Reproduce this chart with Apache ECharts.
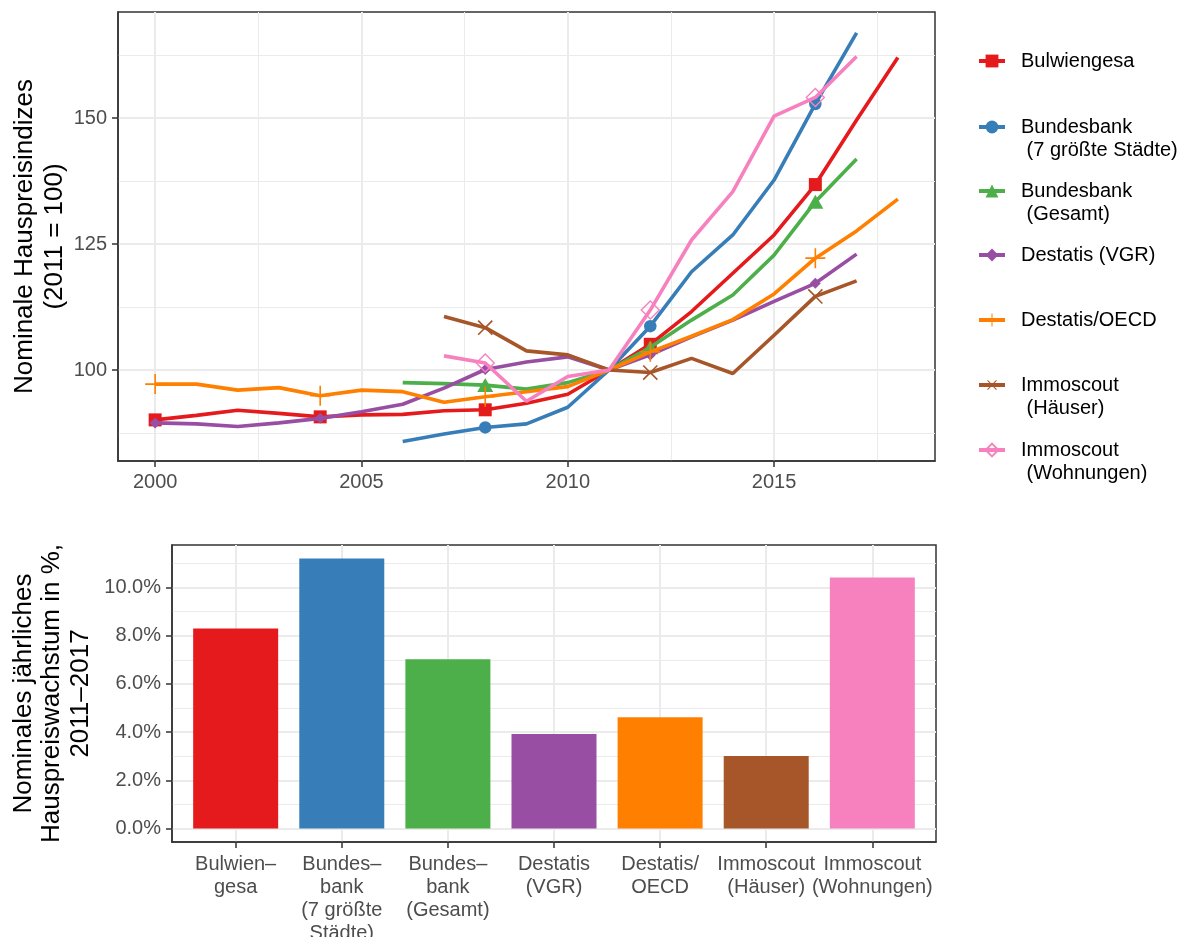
<!DOCTYPE html>
<html>
<head>
<meta charset="utf-8">
<script src="https://cdn.jsdelivr.net/npm/echarts@6/dist/echarts.min.js"></script>
<style>
html, body { margin: 0; padding: 0; background: #fff; }
#chart { width: 1188px; height: 937px; }
</style>
</head>
<body>
<div id="chart"></div>
<script>
// Jahre und Indexwerte (2011 = 100)
var years = [2000, 2001, 2002, 2003, 2004, 2005, 2006, 2007, 2008, 2009, 2010, 2011, 2012, 2013, 2014, 2015, 2016, 2017, 2018];
var markerYears = [2000, 2004, 2008, 2012, 2016];

var bulwiengesa      = [90.1, 91.0, 92.0, 91.4, 90.7, 91.1, 91.2, 91.9, 92.1, 93.4, 95.2, 100, 105.1, 111.6, 119.2, 126.8, 136.8, 149.6, 162.0];
var bundesbank7      = [null, null, null, null, null, null, 85.8, 87.3, 88.6, 89.3, 92.6, 100, 108.7, 119.5, 126.8, 137.7, 152.8, 166.9, null];
var bundesbankGesamt = [null, null, null, null, null, null, 97.5, 97.3, 97.0, 96.2, 97.5, 100, 104.5, 109.9, 114.9, 122.8, 133.4, 141.9, null];
var destatisVGR      = [89.5, 89.3, 88.8, 89.5, 90.4, 91.7, 93.2, 96.4, 100.1, 101.6, 102.6, 100, 103.0, 106.6, 109.9, 113.6, 117.2, 123.0, null];
var destatisOECD     = [97.2, 97.2, 96.0, 96.5, 94.9, 96.0, 95.7, 93.6, 94.7, 95.7, 96.7, 100, 103.6, 106.7, 110.0, 115.1, 122.2, 127.6, 133.9];
var immoHaeuser      = [null, null, null, null, null, null, null, 110.6, 108.4, 103.8, 103.0, 100, 99.5, 102.3, 99.3, 106.9, 114.6, 117.7, null];
var immoWohnungen    = [null, null, null, null, null, null, null, 102.8, 101.4, 93.8, 98.7, 100, 111.9, 125.8, 135.4, 150.4, 154.1, 162.2, null];

var seriesNames = [
    'Bulwiengesa',
    'Bundesbank\n (7 größte Städte)',
    'Bundesbank\n (Gesamt)',
    'Destatis (VGR)',
    'Destatis/OECD',
    'Immoscout\n (Häuser)',
    'Immoscout\n (Wohnungen)'
];

// Balken: durchschnittliches jährliches Wachstum 2011-2017 in %
var barLabels = ['Bulwien–\ngesa', 'Bundes–\nbank\n(7 größte\nStädte)', 'Bundes–\nbank\n(Gesamt)', 'Destatis\n(VGR)', 'Destatis/\nOECD', 'Immoscout\n(Häuser)', 'Immoscout\n(Wohnungen)'];
var barValues = [8.30, 11.20, 7.02, 3.92, 4.61, 3.01, 10.41];

// Achsenmarken
var topXMajor = [2000, 2005, 2010, 2015];
var topXMinor = [2002.5, 2007.5, 2012.5, 2017.5];
var topYMajor = [100, 125, 150];
var topYMinor = [87.5, 112.5, 137.5, 162.5];
var barXTicks = [1, 2, 3, 4, 5, 6, 7];
var barYMajor = [0, 2, 4, 6, 8, 10];
var barYMinor = [1, 3, 5, 7, 9, 11];

var colors = ['#E41A1C', '#377EB8', '#4DAF4A', '#984EA3', '#FF7F00', '#A65628', '#F781BF'];
var lineData = [bulwiengesa, bundesbank7, bundesbankGesamt, destatisVGR, destatisOECD, immoHaeuser, immoWohnungen];

var plusPath = 'path://M9.2,0H10.8V9.2H20V10.8H10.8V20H9.2V10.8H0V9.2H9.2Z';
var symbols = [
    { symbol: 'rect', size: 13 },
    { symbol: 'circle', size: 12.5 },
    { symbol: 'triangle', size: [16, 14] },
    { symbol: 'diamond', size: 11 },
    { symbol: plusPath, size: 20 },
    { symbol: plusPath, size: 20, rotate: 45 },
    { symbol: 'diamond', size: 18, open: true }
];

var FONT = '"Liberation Sans", Arial, Helvetica, sans-serif';
var tickColor = '#4D4D4D';
var borderColor = '#333333';
var gridColor = '#EBEBEB';

function pairs(vals) {
    var out = [];
    years.forEach(function (y, i) {
        if (vals[i] != null) out.push([y, vals[i]]);
    });
    return out;
}

function majorAxis(gridIndex, min, max, ticks, extra) {
    var ax = {
        type: 'value',
        gridIndex: gridIndex,
        min: min,
        max: max,
        axisLine: { show: true, onZero: false, lineStyle: { color: borderColor, width: 1.5 } },
        axisTick: { show: true, customValues: ticks, length: 6, lineStyle: { color: borderColor, width: 1.5 } },
        axisLabel: {
            show: true, customValues: ticks, color: tickColor, fontSize: 20, fontFamily: FONT, margin: 11,
            hideOverlap: false,
            formatter: function (v) { return String(v); }
        },
        splitLine: { show: true, lineStyle: { color: gridColor, width: 2 } },
        nameMoveOverlap: false,
        z: 2
    };
    for (var k in extra) ax[k] = extra[k];
    return ax;
}

function minorAxis(gridIndex, min, max, ticks) {
    return {
        type: 'value',
        gridIndex: gridIndex,
        min: min,
        max: max,
        axisLine: { show: false },
        axisTick: { show: false, customValues: ticks },
        axisLabel: { show: false, customValues: ticks },
        splitLine: { show: true, lineStyle: { color: gridColor, width: 1 } },
        z: 1
    };
}

var series = seriesNames.map(function (name, i) {
    var s = symbols[i];
    return {
        name: name,
        type: 'line',
        xAxisIndex: 0,
        yAxisIndex: 0,
        data: pairs(lineData[i]),
        symbol: s.symbol,
        symbolRotate: s.rotate || 0,
        showAllSymbol: true,
        symbolSize: function (v) {
            return markerYears.indexOf(v[0]) >= 0 ? s.size : 0;
        },
        lineStyle: { color: colors[i], width: 3.6 },
        itemStyle: s.open
            ? { color: 'rgba(255,255,255,0)', borderColor: colors[i], borderWidth: 1.4 }
            : { color: colors[i] },
        emphasis: { disabled: true },
        z: 3 + i
    };
});

series.push({
    name: 'Wachstum',
    type: 'bar',
    xAxisIndex: 2,
    yAxisIndex: 2,
    barWidth: 85,
    data: barValues.map(function (v, i) {
        return { value: [barXTicks[i], v], itemStyle: { color: colors[i] } };
    }),
    emphasis: { disabled: true },
    z: 3
});

// Legende: je Eintrag eine eigene Komponente; bei zwei Zeilen sitzt das Symbol auf der ersten
var legendCenters = [61, 127, 191, 255, 320, 385, 450];
var legends = seriesNames.map(function (name, i) {
    var twoLines = name.indexOf('\n') >= 0;
    return {
        show: true,
        orient: 'vertical',
        left: 977,
        top: legendCenters[i] - (twoLines ? 34.5 : 11.5),
        padding: 0,
        itemWidth: 26,
        itemHeight: 16,
        selectedMode: false,
        lineStyle: { width: 4 },
        data: [name],
        formatter: function (n) { return twoLines ? ' \n' + n : n; },
        textStyle: {
            fontSize: 20,
            fontFamily: FONT,
            color: '#000',
            lineHeight: 23,
            padding: [0, 0, 0, 11]
        }
    };
});

// leere Randlabels, damit ECharts keine Kategorie-Beschriftung wegen Ueberlappung ausblendet
var barLabelValues = [0.4].concat(barXTicks, [7.6]);

var chart = echarts.init(document.getElementById('chart'), null, { renderer: 'canvas' });
chart.setOption({
    animation: false,
    backgroundColor: '#fff',
    textStyle: { fontFamily: FONT },
    legend: legends,
    grid: [
        { left: 118, top: 12, right: 253, height: 449, show: true, borderColor: borderColor, borderWidth: 1.5, backgroundColor: 'transparent', outerBoundsMode: 'none', containLabel: false },
        { left: 172, top: 545, right: 252, height: 297, show: true, borderColor: borderColor, borderWidth: 1.5, backgroundColor: 'transparent', outerBoundsMode: 'none', containLabel: false }
    ],
    xAxis: [
        majorAxis(0, 1999.1, 2018.9, topXMajor, {}),
        minorAxis(0, 1999.1, 2018.9, topXMinor),
        majorAxis(1, 0.4, 7.6, barXTicks, {
            axisLabel: {
                show: true, customValues: barLabelValues, color: tickColor, fontSize: 20, fontFamily: FONT,
                lineHeight: 23, margin: 11, verticalAlign: 'top', hideOverlap: false,
                formatter: function (v) {
                    var i = Math.round(v) - 1;
                    return Math.abs(v - Math.round(v)) < 0.01 && barLabels[i] ? barLabels[i] : '';
                }
            }
        })
    ],
    yAxis: [
        majorAxis(0, 81.94, 171.05, topYMajor, {
            name: 'Nominale Hauspreisindizes\n(2011 = 100)',
            nameLocation: 'middle',
            nameGap: 48,
            nameTextStyle: { fontSize: 26, color: '#000', fontFamily: FONT, lineHeight: 30 }
        }),
        minorAxis(0, 81.94, 171.05, topYMinor),
        majorAxis(1, -0.56, 11.76, barYMajor, {
            axisLabel: {
                show: true, customValues: barYMajor, color: tickColor, fontSize: 20, fontFamily: FONT, margin: 11,
                formatter: function (v) { return v.toFixed(1) + '%'; }
            },
            name: 'Nominales jährliches\nHauspreiswachstum in %,\n2011–2017',
            nameLocation: 'middle',
            nameGap: 77,
            nameTextStyle: { fontSize: 26, color: '#000', fontFamily: FONT, lineHeight: 28.5 }
        }),
        minorAxis(1, -0.56, 11.76, barYMinor)
    ],
    series: series
});
</script>
</body>
</html>
